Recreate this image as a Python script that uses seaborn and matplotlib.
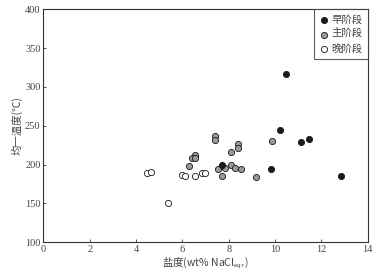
import matplotlib
matplotlib.use("Agg")
import matplotlib.pyplot as plt
import seaborn as sns
import pandas as pd

# ---- data ----
early_x = [10.47, 10.22, 11.11, 11.47, 9.84, 12.86, 7.70]
early_y = [317, 245, 229, 233, 195, 186, 200]

main_x = [7.42, 7.42, 6.56, 6.40, 6.56, 6.27, 8.39, 8.39, 8.10, 9.86,
          8.10, 7.70, 7.55, 7.84, 8.27, 8.53, 7.70, 9.19]
main_y = [237, 232, 213, 208, 208, 198, 227, 222, 216, 231,
          199, 198, 194, 196, 196, 194, 186, 184]

late_x = [4.46, 4.63, 5.97, 6.13, 6.56, 6.85, 6.99, 5.37]
late_y = [189, 190, 187, 185, 186, 189, 189, 150]

stages = ["早阶段", "主阶段", "晚阶段"]
x_ticks = [0, 2, 4, 6, 8, 10, 12, 14]
y_ticks = [100, 150, 200, 250, 300, 350, 400]

df = pd.concat([
    pd.DataFrame({"x": early_x, "y": early_y, "stage": stages[0]}),
    pd.DataFrame({"x": main_x, "y": main_y, "stage": stages[1]}),
    pd.DataFrame({"x": late_x, "y": late_y, "stage": stages[2]}),
])

sns.set_style("ticks")
plt.rcParams['font.family'] = ['Liberation Serif', 'Noto Sans CJK SC', 'DejaVu Sans']
plt.rcParams['mathtext.fontset'] = 'stix'
txt_color = "#444444"

fig = plt.figure(figsize=(3.76, 2.74), dpi=100)
ax = fig.add_axes([0.1152, 0.1157, 0.8628, 0.8503])

palette = {stages[0]: "#1a1a1a", stages[1]: "#9a9a9a", stages[2]: "white"}
# late first, then main, early on top
for st in [stages[2], stages[1], stages[0]]:
    sns.scatterplot(data=df[df["stage"] == st], x="x", y="y", color=palette[st],
                    edgecolor="#1a1a1a", linewidth=0.6, s=20, ax=ax, label=st, zorder=3)

ax.set_xlim(0, 14)
ax.set_ylim(100, 400)
ax.set_xticks(x_ticks)
ax.set_yticks(y_ticks)
ax.tick_params(direction="in", length=2.5, width=0.6, labelsize=7.5,
               colors="#333333", labelcolor=txt_color, pad=2)
for sp in ax.spines.values():
    sp.set_linewidth(0.8)
    sp.set_color("#333333")

ax.set_xlabel("盐度(wt% NaCl$_{\\mathrm{eqv}}$)", fontsize=7.5, color=txt_color,
              family="Noto Sans CJK SC", labelpad=1)
ax.set_ylabel("均一温度(℃)", fontsize=7.5, color=txt_color,
              family=["Noto Sans CJK SC", "DejaVu Sans"], labelpad=2)

handles, labels = ax.get_legend_handles_labels()
order = [labels.index(s) for s in stages]
leg = ax.legend([handles[i] for i in order], [labels[i] for i in order],
                loc="upper right", borderaxespad=0, frameon=True, fancybox=False,
                handletextpad=0.2, handlelength=1.0, borderpad=0.5,
                labelspacing=0.45, prop={"family": ["Noto Sans CJK SC"], "size": 7.5})
leg.get_frame().set_edgecolor("#333333")
leg.get_frame().set_linewidth(0.8)
for t in leg.get_texts():
    t.set_color(txt_color)

fig.savefig("out.png", dpi=100)
